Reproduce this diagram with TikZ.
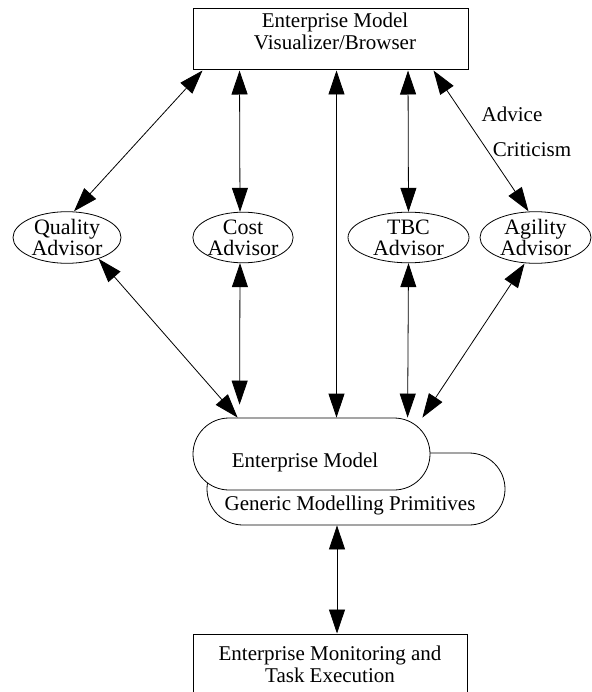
\documentclass[tikz,border=0pt]{standalone}
\usepackage{fontspec}
\setmainfont{Liberation Serif}
\usetikzlibrary{shapes.geometric,arrows.meta}

\begin{document}
\begin{tikzpicture}[x=1pt,y=-1pt,
    every node/.style={font=\fontsize{21}{22}\selectfont,align=center},
    box/.style={draw,line width=1pt,rectangle,inner sep=0pt},
    advisor/.style={draw,ellipse,line width=0.8pt,inner sep=0pt,minimum height=49pt,
      font=\fontsize{22}{21}\selectfont},
    model/.style={draw,line width=0.8pt,fill=white,rounded corners=36pt,
      minimum height=72pt,inner sep=0pt},
    link/.style={line width=0.8pt,
      {Triangle[length=24pt,width=16pt]}-{Triangle[length=24pt,width=16pt]}}]
      \useasboundingbox (0,0) rectangle (591,692);
      \node[box,minimum width=275pt,minimum height=61pt] (viz) at (330.5,39.5) {};
      \node (viztext) at (335,31) {Enterprise Model\\Visualizer/Browser};
      \node[advisor,minimum width=108pt] (qual) at (67,237.5) {Quality\\Advisor};
      \node[advisor,minimum width=100pt] (cost) at (243,237.5) {Cost\\Advisor};
      \node[advisor,minimum width=121pt] (tbc) at (408.5,237.5) {TBC\\Advisor};
      \node[advisor,minimum width=111pt] (agil) at (535.5,237.5) {Agility\\Advisor};
      \node[model,minimum width=298pt] (gmp) at (356,489) {};
      \node[model,minimum width=237pt] (em) at (311.5,454) {};
      \node (emtext) at (305,462) {Enterprise Model};
      \node (gmptext) at (350,505) {Generic Modelling Primitives};
      \node[box,minimum width=274pt,minimum height=60pt] (mon) at (330,664)
        {Enterprise Monitoring and\\Task Execution};
      \node (advice) at (512,114) {Advice};
      \node (critic) at (532,150) {Criticism};
      \begin{scope}[link]
        \draw ([xshift=10pt]viz.south west) to ([xshift=7pt]qual.north);
        \draw ([xshift=47pt]viz.south west) to ([xshift=-3pt]cost.north);
        \draw ([xshift=6pt]viz.south) to ([xshift=25pt]em.north);
        \draw ([xshift=77.5pt]viz.south) to (tbc.north);
        \draw ([xshift=-35pt]viz.south east) to ([xshift=-7pt]agil.north);
        \draw (qual.-34) to ([xshift=45pt]em.north west);
        \draw ([xshift=-3pt]cost.south) to ([xshift=47pt,yshift=13pt]em.north west);
        \draw (tbc.south) to ([xshift=215pt]em.north west);
        \draw ([xshift=-11pt]agil.south) to ([xshift=-8pt]em.north east);
        \draw ([xshift=-19pt]gmp.south) to ([xshift=7pt]mon.north);
      \end{scope}
    \end{tikzpicture}
\end{document}
